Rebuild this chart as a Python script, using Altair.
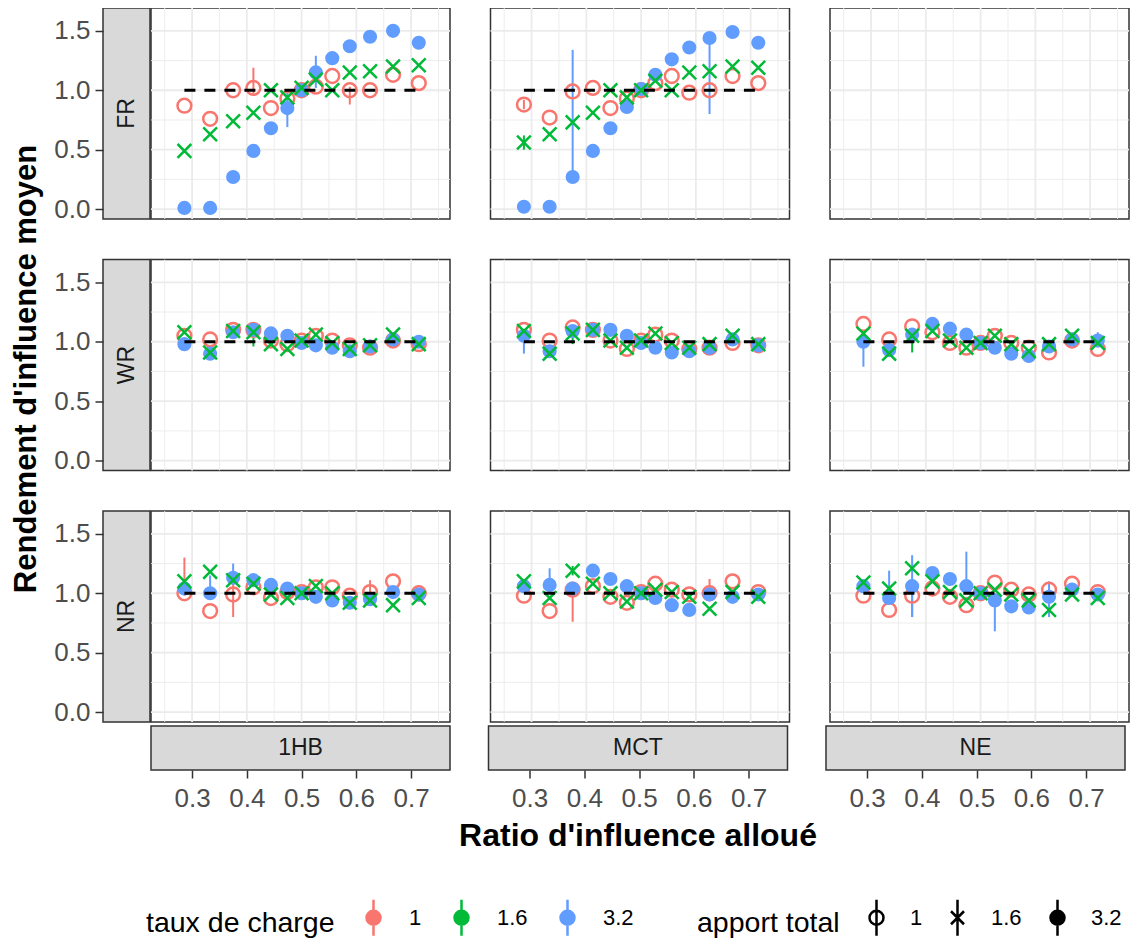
import altair as alt
import pandas as pd

# ---------------- data ----------------
ROWS = ["FR", "WR", "NR"]
COLS = ["1HB", "MCT", "NE"]
TAUX = ["1", "1.6", "3.2"]
APPORT = [1.0, 1.6, 3.2]
COLORS = ["#F8766D", "#00BA38", "#619CFF"]
RATIO = [0.286, 0.333, 0.375, 0.412, 0.444, 0.474, 0.5, 0.526, 0.556, 0.588, 0.625, 0.667, 0.714]
REF_Y = 1.0
Y_TITLE = "Rendement d'influence moyen"
X_TITLE = "Ratio d'influence alloué"

FR_1HB_1 = [0.87, 0.76, 1.00, 1.02, 0.85, 0.93, 1.00, 1.03, 1.12, 1.00, 1.00, 1.13, 1.06]
FR_1HB_16 = [0.49, 0.63, 0.74, 0.81, 1.00, 0.94, 1.02, 1.09, 1.00, 1.15, 1.16, 1.20, 1.21]
FR_1HB_32 = [0.01, 0.01, 0.27, 0.49, 0.68, 0.85, 1.00, 1.15, 1.27, 1.37, 1.45, 1.50, 1.40]

FR_MCT_1 = [0.88, 0.77, 0.99, 1.02, 0.85, 0.93, 1.00, 1.06, 1.12, 0.98, 1.00, 1.12, 1.06]
FR_MCT_16 = [0.56, 0.63, 0.73, 0.81, 1.00, 0.94, 1.00, 1.08, 1.00, 1.15, 1.16, 1.20, 1.19]
FR_MCT_32 = [0.02, 0.02, 0.27, 0.49, 0.68, 0.86, 1.01, 1.13, 1.26, 1.36, 1.44, 1.49, 1.40]

WR_1HB_1 = [1.05, 1.02, 1.10, 1.10, 1.01, 0.98, 1.01, 1.05, 1.01, 0.97, 0.95, 1.01, 0.98]
WR_1HB_16 = [1.08, 0.91, 1.09, 1.08, 0.98, 0.94, 1.01, 1.06, 0.99, 0.94, 0.97, 1.06, 0.98]
WR_1HB_32 = [0.98, 0.90, 1.08, 1.10, 1.07, 1.05, 0.99, 0.97, 0.95, 0.92, 0.96, 1.02, 1.00]

WR_MCT_1 = [1.10, 1.01, 1.12, 1.10, 1.01, 0.94, 1.01, 1.06, 1.01, 0.94, 0.95, 0.99, 0.97]
WR_MCT_16 = [1.09, 0.90, 1.07, 1.10, 1.01, 0.95, 1.01, 1.07, 0.99, 0.95, 0.98, 1.05, 0.98]
WR_MCT_32 = [1.05, 0.92, 1.09, 1.10, 1.10, 1.05, 0.99, 0.95, 0.91, 0.92, 0.95, 1.02, 0.97]

WR_NE_1 = [1.15, 1.02, 1.13, 1.08, 0.99, 0.95, 0.99, 1.05, 0.99, 0.95, 0.91, 1.01, 0.94]
WR_NE_16 = [1.07, 0.90, 1.05, 1.09, 1.01, 0.95, 0.99, 1.05, 0.98, 0.92, 0.98, 1.05, 0.99]
WR_NE_32 = [1.00, 0.93, 1.06, 1.15, 1.11, 1.06, 0.99, 0.95, 0.90, 0.88, 0.96, 1.02, 1.01]

NR_1HB_1 = [1.00, 0.85, 0.99, 1.05, 0.96, 1.01, 1.01, 1.05, 1.05, 0.98, 1.01, 1.10, 1.00]
NR_1HB_16 = [1.10, 1.18, 1.11, 1.08, 0.99, 0.96, 1.00, 1.06, 1.00, 0.92, 0.94, 0.90, 0.96]
NR_1HB_32 = [1.04, 1.00, 1.13, 1.11, 1.07, 1.04, 1.00, 0.97, 0.94, 0.92, 0.95, 1.01, 0.99]

NR_MCT_1 = [0.98, 0.85, 1.03, 1.06, 0.97, 0.92, 1.01, 1.08, 1.03, 0.99, 1.00, 1.10, 1.01]
NR_MCT_16 = [1.10, 0.96, 1.19, 1.08, 1.00, 0.93, 1.00, 1.03, 1.01, 0.97, 0.87, 1.01, 0.97]
NR_MCT_32 = [1.06, 1.07, 1.04, 1.19, 1.12, 1.06, 1.00, 0.96, 0.90, 0.86, 0.99, 0.97, 0.99]

NR_NE_1 = [0.98, 0.86, 0.98, 1.04, 0.97, 0.90, 1.00, 1.09, 1.03, 0.99, 1.03, 1.08, 1.01]
NR_NE_16 = [1.09, 1.04, 1.21, 1.10, 1.01, 0.94, 1.00, 1.03, 0.99, 0.94, 0.86, 0.99, 0.96]
NR_NE_32 = [1.06, 0.96, 1.06, 1.17, 1.12, 1.06, 1.00, 0.94, 0.89, 0.88, 0.97, 1.03, 0.99]

VALUES = {
    ("FR", "1HB"): [FR_1HB_1, FR_1HB_16, FR_1HB_32],
    ("FR", "MCT"): [FR_MCT_1, FR_MCT_16, FR_MCT_32],
    ("WR", "1HB"): [WR_1HB_1, WR_1HB_16, WR_1HB_32],
    ("WR", "MCT"): [WR_MCT_1, WR_MCT_16, WR_MCT_32],
    ("WR", "NE"): [WR_NE_1, WR_NE_16, WR_NE_32],
    ("NR", "1HB"): [NR_1HB_1, NR_1HB_16, NR_1HB_32],
    ("NR", "MCT"): [NR_MCT_1, NR_MCT_16, NR_MCT_32],
    ("NR", "NE"): [NR_NE_1, NR_NE_16, NR_NE_32],
}

# visible error bars: (row, col, taux, index, ymin, ymax)
ERRBARS = [
    ("FR", "1HB", "1", 3, 0.97, 1.19), ("FR", "1HB", "1", 9, 0.88, 1.03),
    ("FR", "1HB", "3.2", 1, 0.00, 0.06), ("FR", "1HB", "3.2", 5, 0.69, 1.00),
    ("FR", "1HB", "3.2", 7, 1.02, 1.29),
    ("FR", "MCT", "1", 0, 0.84, 0.92), ("FR", "MCT", "1.6", 0, 0.50, 0.62),
    ("FR", "MCT", "3.2", 2, 0.22, 1.34), ("FR", "MCT", "3.2", 10, 0.80, 1.47),
    ("WR", "1HB", "1.6", 3, 0.96, 1.12),
    ("WR", "MCT", "3.2", 0, 0.90, 1.08), ("WR", "MCT", "1.6", 2, 0.98, 1.10),
    ("WR", "NE", "3.2", 0, 0.79, 1.02), ("WR", "NE", "1.6", 2, 0.91, 1.10),
    ("WR", "NE", "3.2", 12, 0.96, 1.08),
    ("NR", "1HB", "1", 0, 0.98, 1.30), ("NR", "1HB", "1", 2, 0.80, 1.15),
    ("NR", "1HB", "3.2", 1, 0.97, 1.15), ("NR", "1HB", "3.2", 2, 1.10, 1.25),
    ("NR", "1HB", "1", 10, 0.98, 1.11), ("NR", "1HB", "1", 12, 0.93, 1.02),
    ("NR", "MCT", "1", 2, 0.76, 1.08), ("NR", "MCT", "3.2", 1, 1.04, 1.21),
    ("NR", "MCT", "1.6", 2, 1.15, 1.23), ("NR", "MCT", "1", 10, 0.97, 1.12),
    ("NR", "NE", "3.2", 1, 0.93, 1.19), ("NR", "NE", "3.2", 2, 0.80, 1.32),
    ("NR", "NE", "1", 2, 0.80, 1.02), ("NR", "NE", "3.2", 5, 1.00, 1.35),
    ("NR", "NE", "3.2", 7, 0.68, 1.00), ("NR", "NE", "3.2", 10, 0.80, 1.10),
]

X_TICKS = [0.3, 0.4, 0.5, 0.6, 0.7]
X_MINOR = [0.25, 0.35, 0.45, 0.55, 0.65, 0.75]
Y_TICKS = [0.0, 0.5, 1.0, 1.5]
Y_MINOR = [0.25, 0.75, 1.25]
X_DOM = [0.225, 0.771]
Y_DOM = [-0.083, 1.692]

# ---------------- style ----------------
FONT = "Liberation Sans"
PW, PH = 299, 211
XS = alt.Scale(domain=X_DOM, nice=False, zero=False)
YS = alt.Scale(domain=Y_DOM, nice=False, zero=False)
CS = alt.Scale(domain=TAUX, range=COLORS)

X_PATH = "M-1,-1L1,1M-1,1L1,-1"
RING = ("M0.7,0A0.7,0.7,0,1,1,-0.7,0A0.7,0.7,0,1,1,0.7,0"
        "M0.5,0A0.5,0.5,0,1,1,-0.5,0A0.5,0.5,0,1,1,0.5,0"
        "M0.3,0A0.3,0.3,0,1,1,-0.3,0A0.3,0.3,0,1,1,0.3,0"
        "M0.1,0A0.1,0.1,0,1,1,-0.1,0A0.1,0.1,0,1,1,0.1,0")
VLINE = "M0,-1.8L0,1.8"
LEG_SHAPES = [
    VLINE + "M0.7,0A0.7,0.7,0,1,1,-0.7,0A0.7,0.7,0,1,1,0.7,0",
    VLINE + "M-0.65,-0.65L0.65,0.65M-0.65,0.65L0.65,-0.65",
    VLINE + RING,
]

LEG_C = alt.Legend(
    title="taux de charge", orient="none", legendX=135, legendY=898,
    direction="horizontal", titleOrient="left", symbolType=VLINE + RING,
    symbolSize=400, symbolStrokeWidth=2.5, symbolOpacity=1,
    labelFontSize=22, titleFontSize=28.5, titleFontWeight="normal", titleLimit=400,
    labelFont=FONT, titleFont=FONT, labelColor="black", titleColor="black",
    labelOffset=24, columnPadding=27, titlePadding=27, padding=0,
)
LEG_S = alt.Legend(
    title="apport total", orient="none", legendX=686, legendY=898,
    direction="horizontal", titleOrient="left",
    symbolSize=400, symbolStrokeWidth=2.5, symbolOpacity=1,
    symbolStrokeColor="black", symbolFillColor="transparent",
    labelFontSize=22, titleFontSize=28.5, titleFontWeight="normal", titleLimit=400,
    labelFont=FONT, titleFont=FONT, labelColor="black", titleColor="black",
    labelOffset=22, columnPadding=23, titlePadding=25, padding=0,
)


def panel_df(r, c):
    recs = []
    series = VALUES.get((r, c))
    if series is None:
        return pd.DataFrame(columns=["x", "y", "ymin", "ymax", "taux", "apport", "err"])
    for t, a, vals in zip(TAUX, APPORT, series):
        for x, y in zip(RATIO, vals):
            recs.append({"x": x, "y": y, "ymin": y, "ymax": y, "taux": t, "apport": a, "err": False})
    df = pd.DataFrame(recs)
    for (er, ec, et, ei, lo, hi) in ERRBARS:
        if er == r and ec == c:
            m = (df["taux"] == et) & (df["x"] == RATIO[ei])
            df.loc[m, "ymin"] = lo
            df.loc[m, "ymax"] = hi
            df.loc[m, "err"] = True
    return df


def grid_layers():
    gxm = alt.Chart(pd.DataFrame({"g": X_MINOR})).mark_rule(color="#EBEBEB", strokeWidth=0.9).encode(
        x=alt.X("g:Q", scale=XS, axis=None))
    gym = alt.Chart(pd.DataFrame({"g": Y_MINOR})).mark_rule(color="#EBEBEB", strokeWidth=0.9).encode(
        y=alt.Y("g:Q", scale=YS, axis=None))
    gx = alt.Chart(pd.DataFrame({"g": X_TICKS})).mark_rule(color="#EBEBEB", strokeWidth=1.8).encode(
        x=alt.X("g:Q", scale=XS, axis=None))
    gy = alt.Chart(pd.DataFrame({"g": Y_TICKS})).mark_rule(color="#EBEBEB", strokeWidth=1.8).encode(
        y=alt.Y("g:Q", scale=YS, axis=None))
    return [gxm, gym, gx, gy]


def panel(r, c, with_legend=False):
    layers = grid_layers()
    df = panel_df(r, c)
    if len(df):
        base = alt.Chart(df)
        X = alt.X("x:Q", scale=XS, axis=None)
        Y = alt.Y("y:Q", scale=YS, axis=None)
        COL = alt.Color("taux:N", scale=CS, legend=LEG_C)
        if with_legend:
            layers.append(base.mark_point(opacity=0, filled=False).encode(
                x=X, y=Y, color=COL,
                shape=alt.Shape("apport:O", scale=alt.Scale(domain=APPORT, range=LEG_SHAPES), legend=LEG_S)))
        errs = df[df["err"]]
        if len(errs):
            layers.append(alt.Chart(errs).mark_rule(strokeWidth=2).encode(
                x=X, y=alt.Y("ymin:Q", scale=YS, axis=None), y2="ymax:Q", color=COL))
        layers.append(base.transform_filter(alt.datum.taux == "1").mark_point(
            shape="circle", filled=False, size=190, strokeWidth=2.5, opacity=1).encode(x=X, y=Y, color=COL))
        layers.append(base.transform_filter(alt.datum.taux == "3.2").mark_point(
            shape="circle", filled=True, size=200, opacity=1).encode(x=X, y=Y, color=COL))
        layers.append(base.transform_filter(alt.datum.taux == "1.6").mark_point(
            shape=X_PATH, filled=False, size=190, strokeWidth=2.5, opacity=1).encode(x=X, y=Y, color=COL))
        ref = pd.DataFrame({"x": [RATIO[0], RATIO[-1]], "y": [REF_Y, REF_Y]})
        layers.append(alt.Chart(ref).mark_line(color="black", strokeWidth=3, strokeDash=[11, 9]).encode(
            x=alt.X("x:Q", scale=XS, axis=None), y=alt.Y("y:Q", scale=YS, axis=None)))
    return alt.layer(*layers).properties(width=PW, height=PH)


STRIP_VIEW = alt.ViewBackground(fill="#D9D9D9", stroke="#333333", strokeWidth=1.5)
BLANK_VIEW = alt.ViewBackground(fill="transparent", stroke="transparent")


def row_strip(name):
    d = pd.DataFrame({"lab": [name], "yc": [(Y_DOM[0] + Y_DOM[1]) / 2]})
    return alt.Chart(d).mark_text(angle=270, fontSize=23, color="#1A1A1A", font=FONT).encode(
        y=alt.Y("yc:Q", scale=YS, axis=alt.Axis(values=Y_TICKS, format=".1f", title=None, labelPadding=5)),
        text="lab:N",
    ).properties(width=47, height=PH, view=STRIP_VIEW)


def blank_left(h):
    d = pd.DataFrame({"yc": [(Y_DOM[0] + Y_DOM[1]) / 2]})
    return alt.Chart(d).mark_point(opacity=0).encode(
        y=alt.Y("yc:Q", scale=YS, axis=alt.Axis(values=[0.8], format=".1f", title=None, labelPadding=5,
                                                   labelColor="transparent", tickColor="transparent")),
    ).properties(width=47, height=h, view=BLANK_VIEW)


def col_strip(name):
    d = pd.DataFrame({"lab": [name], "xc": [(X_DOM[0] + X_DOM[1]) / 2]})
    return alt.Chart(d).mark_text(fontSize=23, color="#1A1A1A", font=FONT).encode(
        x=alt.X("xc:Q", scale=XS, axis=alt.Axis(values=X_TICKS, format=".1f", title=None, orient="bottom", labelPadding=7)),
        text="lab:N",
    ).properties(width=PW, height=44, view=STRIP_VIEW)


rows = []
for r in ROWS:
    panels = alt.hconcat(*[panel(r, c, with_legend=(r == "FR" and c == "1HB")) for c in COLS], spacing=36.5)
    rows.append(alt.hconcat(row_strip(r), panels, spacing=-2))
rows_block = alt.vconcat(*rows, spacing=34.5)

strips = alt.hconcat(*[col_strip(c) for c in COLS], spacing=36.5).properties(
    title=alt.TitleParams(X_TITLE, orient="bottom", anchor="middle",
                          fontSize=32, fontWeight="bold", font=FONT, color="black", offset=9))
bottom_block = alt.hconcat(blank_left(44), strips, spacing=-2)

main = alt.vconcat(rows_block, bottom_block, spacing=-12)

ytitle = alt.Chart(pd.DataFrame({"t": [Y_TITLE]})).mark_text(
    angle=270, fontSize=31, fontWeight="bold", font=FONT, color="black"
).encode(text="t:N").properties(width=31, height=722, view=BLANK_VIEW)

chart = alt.hconcat(ytitle, main, spacing=10).properties(
    padding={"left": 1, "top": -2, "right": 0, "bottom": 0}
).configure(
    font=FONT
).configure_view(
    stroke="#333333", strokeWidth=1.5
).configure_axis(
    labelFontSize=26, labelColor="#4D4D4D", labelFont=FONT, tickColor="#333333",
    tickWidth=1.5, tickSize=8, domain=False, grid=False,
)

chart.save("out.html", embed_options={"renderer": "svg", "actions": False})
